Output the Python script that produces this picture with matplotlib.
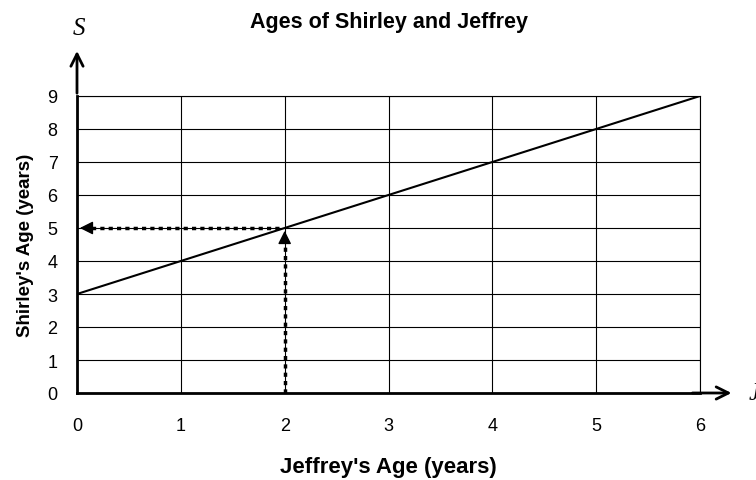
import numpy as np
import matplotlib
matplotlib.use("Agg")
import matplotlib.pyplot as plt

plt.rcParams['font.family'] = ['Liberation Sans', 'DejaVu Sans']

# data
jeffrey = [0, 6]
shirley = [3, 9]
x_ticks = [0, 1, 2, 3, 4, 5, 6]
y_ticks = [0, 1, 2, 3, 4, 5, 6, 7, 8, 9]
read_j = 2
read_s = 5

fig = plt.figure(figsize=(7.56, 4.81), dpi=100)
ax = fig.add_axes([77 / 756, 1 - 394 / 481, 623 / 756, 297 / 481])

ax.set_xlim(0, 6)
ax.set_ylim(0, 9)
ax.set_xticks(x_ticks)
ax.set_yticks(y_ticks)
ax.grid(True, color='black', linewidth=0.8)
ax.tick_params(length=0, labelsize=13)
ax.tick_params(axis='x', pad=17)
ax.tick_params(axis='y', pad=14)
for s in ['top', 'right']:
    ax.spines[s].set_linewidth(0.8)
for s in ['left', 'bottom']:
    ax.spines[s].set_linewidth(2)

# axis arrows
ax.annotate('', xy=(6.33, 0), xytext=(5.9, 0), annotation_clip=False,
            arrowprops=dict(arrowstyle='->', lw=2, color='black', mutation_scale=22))
ax.annotate('', xy=(0, 10.45), xytext=(0, 9), annotation_clip=False,
            arrowprops=dict(arrowstyle='->', lw=2, color='black', mutation_scale=22))

# the line
ax.plot(jeffrey, shirley, color='black', lw=1.5)

# reading lines
ax.plot([read_j, read_j], [0, read_s - 0.3], color='black', lw=2.5, linestyle=(0, (1.2, 1.2)))
ax.plot([read_j - 0.05, 0.12], [read_s, read_s], color='black', lw=2.5, linestyle=(0, (1.2, 1.2)))
ax.annotate('', xy=(read_j, read_s), xytext=(read_j, read_s - 0.35),
            arrowprops=dict(arrowstyle='-|>', lw=1, color='black', mutation_scale=20))
ax.annotate('', xy=(0, read_s), xytext=(0.15, read_s),
            arrowprops=dict(arrowstyle='-|>', lw=1, color='black', mutation_scale=20))

ax.set_title("Ages of Shirley and Jeffrey", fontsize=15.5, fontweight='bold', pad=50)
ax.set_xlabel("Jeffrey's Age (years)", fontsize=16, fontweight='bold', labelpad=16)
ax.set_ylabel("Shirley's Age (years)", fontsize=13.5, fontweight='bold', labelpad=10)

ax.text(0.02, 11.05, 'S', fontsize=18, style='italic', family='Liberation Serif',
        ha='center', va='center', clip_on=False)
ax.text(6.52, 0, 'J', fontsize=18, style='italic', family='Liberation Serif',
        ha='center', va='center', clip_on=False)

fig.savefig('out.png', dpi=100)
